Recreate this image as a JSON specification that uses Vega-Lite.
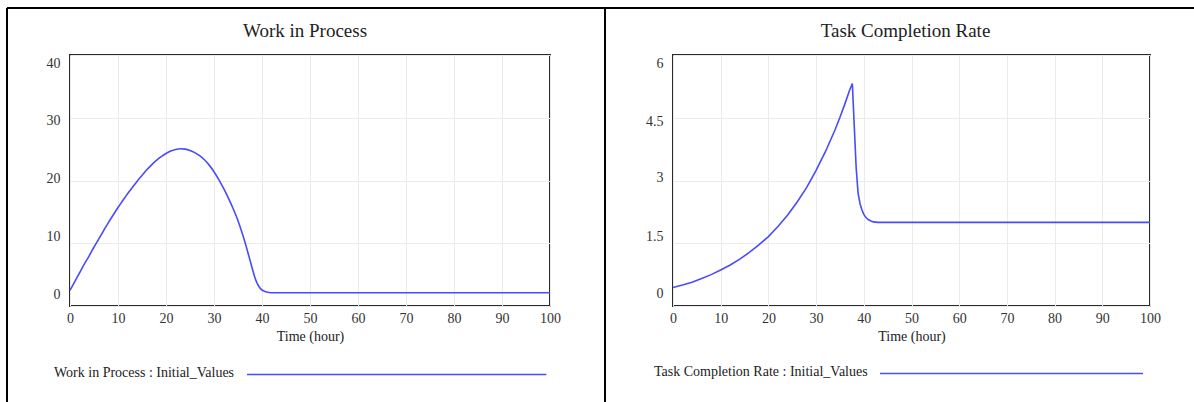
{
  "$schema": "https://vega.github.io/schema/vega-lite/v6.json",
  "background": "white",
  "padding": {"left": 5, "top": 5, "right": 0, "bottom": 0},
  "bounds": "flush",
  "spacing": 123,
  "resolve": {"scale": {"x": "independent", "y": "independent", "color": "independent"}, "legend": {"color": "independent"}, "axis": {"x": "independent", "y": "independent"}},
  "config": {
    "font": "Liberation Serif",
    "view": {"stroke": "#2a2a2a", "strokeWidth": 2},
    "axis": {"gridColor": "#ebebeb", "gridWidth": 1, "ticks": false, "domain": false, "labelFont": "Liberation Serif", "labelFontSize": 14, "labelColor": "#333", "titleFont": "Liberation Serif", "titleFontSize": 14, "titleFontWeight": "normal", "titleColor": "#222"},
    "title": {"font": "Liberation Serif", "fontSize": 19, "fontWeight": "normal", "color": "#222"}
  },
  "hconcat": [
    {
      "width": 480,
      "height": 251,
      "title": {"text": "Work in Process", "anchor": "middle", "offset": -49, "baseline": "alphabetic", "dx": -5},
      "layer": [
        {
          "data": {"values": [
            {"time": 0, "value": 2.5}, {"time": 1, "value": 3.9}, {"time": 2, "value": 5.3}, {"time": 3, "value": 6.7},
            {"time": 4, "value": 8.0}, {"time": 5, "value": 9.4}, {"time": 6, "value": 10.7}, {"time": 7, "value": 12.0},
            {"time": 8, "value": 13.3}, {"time": 9, "value": 14.5}, {"time": 10, "value": 15.7}, {"time": 11, "value": 16.8},
            {"time": 12, "value": 17.9}, {"time": 13, "value": 18.9}, {"time": 14, "value": 19.9}, {"time": 15, "value": 20.8},
            {"time": 16, "value": 21.7}, {"time": 17, "value": 22.5}, {"time": 18, "value": 23.2}, {"time": 19, "value": 23.8},
            {"time": 20, "value": 24.3}, {"time": 21, "value": 24.7}, {"time": 22, "value": 24.95}, {"time": 23, "value": 25.05},
            {"time": 24, "value": 25.0}, {"time": 25, "value": 24.8}, {"time": 26, "value": 24.45}, {"time": 27, "value": 23.95},
            {"time": 28, "value": 23.3}, {"time": 29, "value": 22.45}, {"time": 30, "value": 21.4}, {"time": 31, "value": 20.15},
            {"time": 32, "value": 18.75}, {"time": 33, "value": 17.2}, {"time": 34, "value": 15.5}, {"time": 35, "value": 13.6},
            {"time": 36, "value": 11.3}, {"time": 37, "value": 8.7}, {"time": 38, "value": 5.9}, {"time": 38.5, "value": 4.6},
            {"time": 39, "value": 3.6}, {"time": 39.5, "value": 2.95}, {"time": 40, "value": 2.55}, {"time": 40.5, "value": 2.35},
            {"time": 41, "value": 2.22}, {"time": 42, "value": 2.12}, {"time": 43, "value": 2.1}, {"time": 50, "value": 2.1},
            {"time": 60, "value": 2.1}, {"time": 70, "value": 2.1}, {"time": 80, "value": 2.1}, {"time": 90, "value": 2.1},
            {"time": 100, "value": 2.1}
          ]},
          "mark": {"type": "line", "strokeWidth": 1.6, "interpolate": "monotone"},
          "encoding": {
            "x": {"field": "time", "type": "quantitative", "scale": {"domain": [0, 100], "nice": false, "zero": false},
              "axis": {"values": [0,5,10,15,20,25,30,35,40,45,50,55,60,65,70,75,80,85,90,95,100], "labelExpr": "datum.value % 10 == 0 ? datum.label : ''", "labelFlush": false, "labelPadding": 5, "title": "Time (hour)", "titlePadding": 4}},
            "y": {"field": "value", "type": "quantitative", "scale": {"domain": [0, 40], "nice": false},
              "axis": {"values": [0, 10, 20, 30, 40], "labelPadding": 10, "title": null,
                "labelOffset": {"condition": [{"test": "datum.value == 40", "value": 8}, {"test": "datum.value == 30", "value": 3}, {"test": "datum.value == 10", "value": -7}, {"test": "datum.value == 0", "value": -12}], "value": -2}}},
            "color": {"datum": "Work in Process : Initial_Values", "type": "nominal", "scale": {"range": ["#4a4aff"]},
              "legend": {"orient": "none", "legendX": -16, "legendY": 311, "title": "Work in Process : Initial_Values", "titleOrient": "left", "titleFont": "Liberation Serif", "titleFontSize": 14, "titleFontWeight": "normal", "titleColor": "#222", "titlePadding": 11, "titleBaseline": "middle", "titleLimit": 500, "symbolType": "M-1,0H39", "symbolSize": 224, "symbolStrokeWidth": 1.5, "labelExpr": "''", "padding": 0}}
          }
        },
        {
          "data": {"values": [{}]},
          "mark": {"type": "rule", "color": "#000", "strokeWidth": 2},
          "encoding": {"x": {"datum": -13.125}, "y": {"datum": 47.49}, "y2": {"datum": -15.3}}
        },
        {
          "data": {"values": [{}]},
          "mark": {"type": "rule", "color": "#000", "strokeWidth": 2},
          "encoding": {"x": {"datum": -13.125}, "x2": {"datum": 111.46}, "y": {"datum": 47.49}}
        },
        {
          "data": {"values": [{}]},
          "mark": {"type": "rule", "color": "#000", "strokeWidth": 2},
          "encoding": {"x": {"datum": 111.46}, "y": {"datum": 47.49}, "y2": {"datum": -15.3}}
        }
      ]
    },
    {
      "width": 477,
      "height": 251,
      "title": {"text": "Task Completion Rate", "anchor": "middle", "offset": -49, "baseline": "alphabetic", "dx": -6},
      "layer": [
        {
          "data": {"values": [
            {"time": 0, "value": 0.44}, {"time": 2, "value": 0.5}, {"time": 4, "value": 0.57}, {"time": 6, "value": 0.66},
            {"time": 8, "value": 0.75}, {"time": 10, "value": 0.86}, {"time": 12, "value": 0.98}, {"time": 14, "value": 1.12},
            {"time": 16, "value": 1.28}, {"time": 18, "value": 1.46}, {"time": 20, "value": 1.66}, {"time": 22, "value": 1.9},
            {"time": 24, "value": 2.17}, {"time": 26, "value": 2.48}, {"time": 28, "value": 2.83}, {"time": 30, "value": 3.24},
            {"time": 32, "value": 3.7}, {"time": 34, "value": 4.22}, {"time": 35, "value": 4.51}, {"time": 36, "value": 4.82},
            {"time": 37, "value": 5.15}, {"time": 37.6, "value": 5.32}, {"time": 38, "value": 4.3}, {"time": 38.4, "value": 3.3},
            {"time": 38.8, "value": 2.7}, {"time": 39.2, "value": 2.45}, {"time": 39.6, "value": 2.3}, {"time": 40, "value": 2.19},
            {"time": 40.5, "value": 2.11}, {"time": 41, "value": 2.06}, {"time": 41.5, "value": 2.03}, {"time": 42, "value": 2.01},
            {"time": 43, "value": 2.0}, {"time": 50, "value": 2.0}, {"time": 60, "value": 2.0}, {"time": 70, "value": 2.0},
            {"time": 80, "value": 2.0}, {"time": 90, "value": 2.0}, {"time": 100, "value": 2.0}
          ]},
          "mark": {"type": "line", "strokeWidth": 1.6},
          "encoding": {
            "x": {"field": "time", "type": "quantitative", "scale": {"domain": [0, 100], "nice": false, "zero": false},
              "axis": {"values": [0,5,10,15,20,25,30,35,40,45,50,55,60,65,70,75,80,85,90,95,100], "labelExpr": "datum.value % 10 == 0 ? datum.label : ''", "labelFlush": false, "labelPadding": 5, "title": "Time (hour)", "titlePadding": 4}},
            "y": {"field": "value", "type": "quantitative", "scale": {"domain": [0, 6], "nice": false},
              "axis": {"values": [0, 1.5, 3, 4.5, 6], "labelExpr": "'' + datum.value", "labelPadding": 10, "title": null,
                "labelOffset": {"condition": [{"test": "datum.value == 6", "value": 8}, {"test": "datum.value == 4.5", "value": 4}, {"test": "datum.value == 1.5", "value": -7}, {"test": "datum.value == 0", "value": -13}], "value": -3}}},
            "color": {"datum": "Task Completion Rate : Initial_Values", "type": "nominal", "scale": {"range": ["#4a4aff"]},
              "legend": {"orient": "none", "legendX": -19, "legendY": 311, "title": "Task Completion Rate : Initial_Values", "titleOrient": "left", "titleFont": "Liberation Serif", "titleFontSize": 14, "titleFontWeight": "normal", "titleColor": "#222", "titlePadding": 11, "titleBaseline": "middle", "titleLimit": 500, "symbolType": "M-1,0H39", "symbolSize": 173, "symbolStrokeWidth": 1.5, "labelExpr": "''", "padding": 0}}
          }
        },
        {
          "data": {"values": [{}]},
          "mark": {"type": "rule", "color": "#000", "strokeWidth": 2},
          "encoding": {"x": {"datum": -14.29}, "x2": {"datum": 109.24}, "y": {"datum": 7.124}}
        }
      ]
    }
  ]
}
